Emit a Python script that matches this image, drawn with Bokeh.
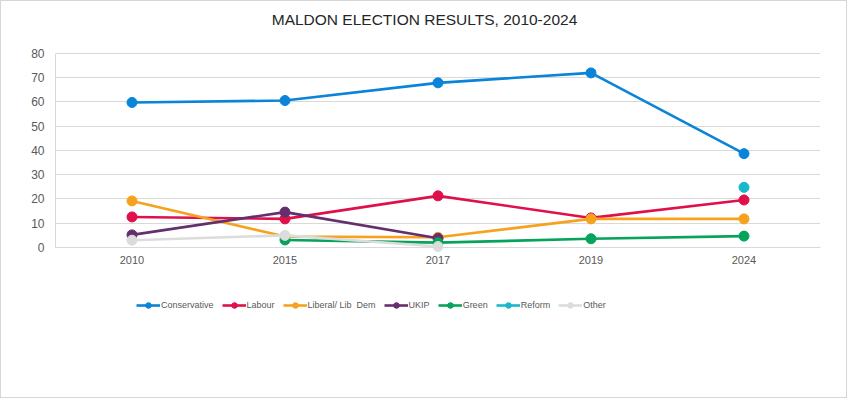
from bokeh.plotting import figure
from bokeh.models import Range1d, FactorRange, FixedTicker, Legend, LegendItem, Label
from bokeh.embed import file_html
from bokeh.resources import INLINE

years = ["2010", "2015", "2017", "2019", "2024"]
conservative = [59.8, 60.6, 67.9, 72.0, 38.7]
labour = [12.6, 11.8, 21.3, 12.2, 19.6]
libdem = [19.2, 4.5, 4.2, 11.8, 11.8]
ukip = [5.2, 14.6, 3.8, None, None]
green = [None, 3.1, 2.0, 3.6, 4.7]
reform = [None, None, None, None, 24.8]
other = [3.0, 5.0, 0.4, None, None]

series = [
    ("Conservative", conservative, "#0a84d8"),
    ("Labour", labour, "#e0104a"),
    ("Liberal/ Lib  Dem", libdem, "#f7a21e"),
    ("UKIP", ukip, "#652f6f"),
    ("Green", green, "#06a35a"),
    ("Reform", reform, "#18b8cc"),
    ("Other", other, "#dcdcdc"),
]

# frame spans the whole canvas height; axis and grid are pinned to 0..80
p = figure(width=847, height=398, output_backend="svg", toolbar_location=None,
           x_range=FactorRange(factors=years, range_padding=0),
           y_range=Range1d(-40.41, 101.44),
           min_border_left=54, min_border_right=28, min_border_top=0, min_border_bottom=54,
           styles={"border": "1px solid #d6d6d6"})

p.outline_line_color = None
p.background_fill_color = "white"
p.border_fill_color = "white"

p.xgrid.grid_line_color = None
p.ygrid.grid_line_color = "#d9d9d9"
p.ygrid.grid_line_width = 1

p.yaxis.ticker = FixedTicker(ticks=[0, 10, 20, 30, 40, 50, 60, 70, 80])
p.yaxis.bounds = (0, 80)
p.xaxis.fixed_location = 0
for ax in (p.xaxis[0], p.yaxis[0]):
    ax.axis_line_color = "#d9d9d9"
    ax.major_tick_line_color = None
    ax.minor_tick_line_color = None
    ax.major_label_text_color = "#595959"
    ax.major_label_text_font = "Liberation Sans"
p.yaxis.major_label_text_font_size = "12px"
p.yaxis.major_label_standoff = 5
p.xaxis.major_label_text_font_size = "11px"
p.xaxis.major_label_standoff = 2

title = Label(x=369, y=326, x_units="screen", y_units="screen",
              text="MALDON ELECTION RESULTS, 2010-2024", text_align="center",
              text_baseline="middle", text_font="Liberation Sans",
              text_font_size="15.5px", text_color="#262626")
p.add_layout(title)

items = []
for name, vals, color in series:
    xs = [y for y, v in zip(years, vals) if v is not None]
    ys = [v for v in vals if v is not None]
    r1 = p.line(xs, ys, line_color=color, line_width=2.6)
    r2 = p.scatter(xs, ys, size=10, fill_color=color, line_color=color)
    items.append(LegendItem(label=name, renderers=[r1, r2]))

legend = Legend(items=items, orientation="horizontal", location=(81, 33),
                glyph_width=24, glyph_height=14, label_standoff=1, spacing=8,
                padding=0, margin=0, border_line_color=None, background_fill_alpha=0,
                label_text_font="Liberation Sans", label_text_font_size="9px",
                label_text_color="#595959")
p.add_layout(legend, "center")

open("out.html", "w").write(file_html(p, INLINE))
